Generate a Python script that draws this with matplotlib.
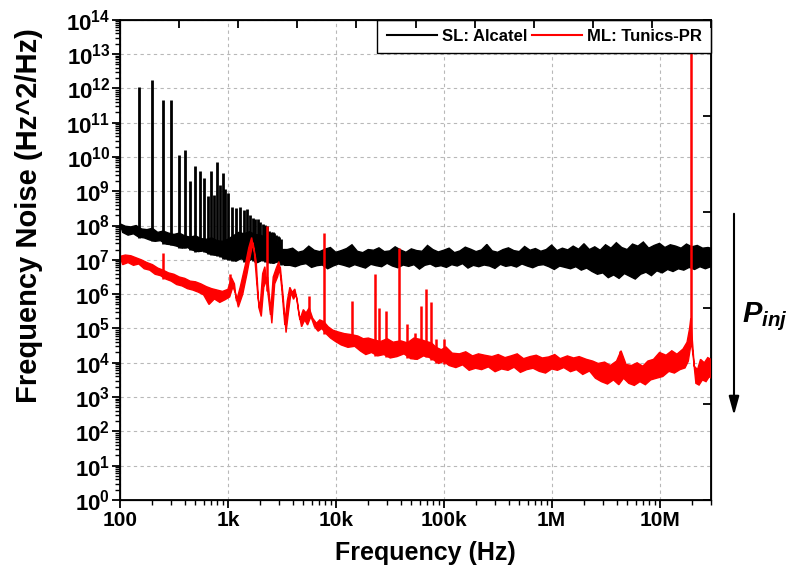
import numpy as np
import matplotlib.pyplot as plt
from matplotlib.lines import Line2D
from matplotlib.ticker import LogLocator, FuncFormatter, NullFormatter, NullLocator

plt.rcParams['font.family'] = 'Liberation Sans'
plt.rcParams['font.weight'] = 'bold'
plt.rcParams['mathtext.fontset'] = 'custom'
plt.rcParams['mathtext.rm'] = 'Liberation Sans:bold'
plt.rcParams['mathtext.bf'] = 'Liberation Sans:bold'
plt.rcParams['mathtext.it'] = 'Liberation Sans:bold:italic'

# SL: Alcatel noise floor, sampled every 0.05 decade from 100 Hz (log10 Hz^2/Hz)
sl_freq = 10 ** np.arange(2.0, 7.51, 0.05)
sl_hi = [8.05, 7.98, 7.96, 8.00, 7.90, 7.88, 7.92, 7.80, 7.84, 7.78,
         7.74, 7.78, 7.70, 7.66, 7.70, 7.62, 7.60, 7.64, 7.56, 7.54,
         7.60, 7.70, 7.80, 7.76, 7.82, 7.74, 7.72, 7.66, 7.62, 7.55,
         7.30, 7.30, 7.34, 7.22, 7.26, 7.40, 7.28, 7.24, 7.31, 7.36,
         7.22, 7.27, 7.33, 7.44, 7.25, 7.21, 7.30, 7.28, 7.35, 7.24,
         7.26, 7.38, 7.29, 7.22, 7.32, 7.27, 7.25, 7.42, 7.30, 7.23,
         7.28, 7.34, 7.21, 7.26, 7.37, 7.31, 7.24, 7.29, 7.45, 7.26,
         7.22, 7.30, 7.35, 7.27, 7.24, 7.39, 7.28, 7.33, 7.25, 7.30,
         7.43, 7.27, 7.34, 7.29, 7.40, 7.31, 7.47, 7.30, 7.38, 7.28,
         7.44, 7.34, 7.50, 7.36, 7.30, 7.46, 7.40, 7.52, 7.34, 7.42,
         7.48, 7.36, 7.44, 7.40, 7.34, 7.46, 7.38, 7.42, 7.34, 7.36,
         7.32]
sl_lo = [7.80, 7.72, 7.76, 7.66, 7.64, 7.58, 7.54, 7.56, 7.46, 7.44,
         7.40, 7.34, 7.36, 7.28, 7.24, 7.26, 7.18, 7.14, 7.12, 7.04,
         7.00, 6.96, 7.04, 6.94, 7.02, 6.92, 7.00, 6.94, 6.90, 6.96,
         6.84, 6.84, 6.80, 6.86, 6.89, 6.78, 6.83, 6.85, 6.74, 6.82,
         6.88, 6.84, 6.79, 6.86, 6.81, 6.76, 6.87, 6.83, 6.80, 6.90,
         6.82, 6.77, 6.85, 6.81, 6.86, 6.73, 6.84, 6.88, 6.80, 6.83,
         6.78, 6.86, 6.82, 6.89, 6.76, 6.84, 6.80, 6.85, 6.82, 6.75,
         6.87, 6.81, 6.84, 6.79, 6.88, 6.82, 6.77, 6.84, 6.86, 6.80,
         6.72, 6.82, 6.78, 6.74, 6.80, 6.70, 6.76, 6.66, 6.58, 6.62,
         6.48, 6.56, 6.46, 6.60, 6.52, 6.44, 6.58, 6.64, 6.54, 6.68,
         6.62, 6.72, 6.66, 6.74, 6.70, 6.78, 6.72, 6.80, 6.74, 6.80,
         6.78]

# SL: Alcatel mains harmonics (Hz, log10 peak)
sl_spike_freq = [150, 200, 250, 300, 350, 400, 450, 500, 550, 600, 650, 700, 750, 800,
                 850, 900, 950, 1000, 1100, 1200, 1300, 1400, 1500, 1600, 1700, 1800,
                 1900, 2000, 2100, 2200, 2300, 2400, 2500, 2600, 2700, 2800, 2900,
                 3000, 3100]
sl_spike_peak = [12.05, 12.25, 11.67, 11.67, 10.07, 10.21, 9.29, 9.73, 9.58, 9.39, 8.85,
                 9.58, 8.90, 9.84, 9.19, 9.53, 9.07, 8.95, 8.55, 8.50, 8.53, 8.45, 8.47,
                 8.30, 8.22, 8.18, 8.20, 8.10, 8.05, 8.02, 7.98, 7.85, 7.82, 7.80, 7.78,
                 7.72, 7.70, 7.68, 7.62]

# ML: Tunics-PR noise floor (Hz, log10 Hz^2/Hz)
ml_freq = [100, 112, 126, 141, 158, 178, 200, 224, 251, 282,
           316, 355, 398, 447, 501, 562, 631, 708, 794, 891,
           1000, 1080, 1150, 1200, 1300, 1450, 1560, 1660, 1760, 1900,
           1980, 2100, 2200, 2480, 2630, 2800, 2970, 3150, 3370, 3550,
           3750, 3950, 4170, 4400, 4640, 5000, 5300, 5660, 6100, 6620,
           7100, 7740, 8500, 9400, 10.5e3, 12e3, 14e3, 16e3, 18e3, 20e3,
           23e3, 26e3, 30e3, 34e3, 40e3, 46e3, 53e3, 61e3, 69e3, 77e3,
           85e3, 95e3, 105e3, 120e3, 140e3, 160e3, 185e3, 210e3, 240e3, 280e3,
           320e3, 370e3, 420e3, 480e3, 550e3, 630e3, 720e3, 820e3, 940e3, 1.07e6,
           1.2e6, 1.4e6, 1.6e6, 1.8e6, 2.1e6, 2.4e6, 2.7e6, 3.1e6, 3.5e6, 4.0e6,
           4.4e6, 4.9e6, 5.5e6, 6.2e6, 7.0e6, 7.8e6, 8.8e6, 10e6, 11.5e6, 13e6,
           14.5e6, 16.5e6, 18e6, 19e6, 19.5e6, 20e6, 21e6, 22.5e6, 24e6, 26e6,
           28e6, 30e6]
ml_lo = [6.86, 6.92, 6.84, 6.88, 6.74, 6.70, 6.58, 6.54, 6.44, 6.38,
         6.28, 6.24, 6.16, 6.12, 6.06, 5.98, 5.70, 5.86, 5.76, 5.84,
         5.92, 6.22, 6.02, 5.62, 6.00, 6.60, 7.10, 7.50, 6.95, 5.60,
         5.35, 6.20, 6.50, 5.15, 6.30, 6.50, 6.80, 5.90, 4.88, 5.50,
         6.05, 5.85, 6.00, 5.50, 5.05, 5.25, 5.10, 5.35, 5.05, 4.92,
         5.00, 4.85, 4.72, 4.62, 4.52, 4.45, 4.48, 4.34, 4.24, 4.30,
         4.20, 4.24, 4.14, 4.18, 4.26, 4.12, 4.10, 4.20, 4.16, 4.08,
         3.98, 4.04, 3.92, 3.86, 3.94, 3.78, 3.84, 3.80, 3.88, 3.74,
         3.82, 3.78, 3.87, 3.72, 3.80, 3.84, 3.75, 3.70, 3.82, 3.78,
         3.86, 3.74, 3.80, 3.66, 3.76, 3.55, 3.45, 3.38, 3.50, 3.36,
         3.55, 3.40, 3.34, 3.45, 3.36, 3.50, 3.55, 3.60, 3.75, 3.70,
         3.80, 3.85, 4.05, 4.40, 4.60, 4.20, 3.40, 3.35, 3.50, 3.45,
         3.60, 3.55]
ml_hi = [7.10, 7.14, 7.12, 7.06, 7.00, 6.92, 6.86, 6.76, 6.70, 6.62,
         6.58, 6.50, 6.46, 6.38, 6.36, 6.30, 6.22, 6.16, 6.12, 6.08,
         6.14, 6.48, 6.30, 5.80, 6.20, 6.85, 7.35, 7.65, 7.20, 5.90,
         5.55, 6.60, 6.80, 5.40, 6.50, 6.75, 6.95, 6.20, 5.10, 5.80,
         6.20, 6.05, 6.15, 5.80, 5.25, 5.55, 5.45, 5.60, 5.30, 5.15,
         5.25, 5.20, 5.05, 4.95, 4.90, 4.85, 4.82, 4.78, 4.70, 4.72,
         4.66, 4.62, 4.70, 4.60, 4.64, 4.58, 4.72, 4.68, 4.62, 4.58,
         4.45, 4.38, 4.46, 4.28, 4.26, 4.32, 4.20, 4.26, 4.22, 4.18,
         4.24, 4.15, 4.20, 4.26, 4.12, 4.18, 4.22, 4.14, 4.17, 4.24,
         4.12, 4.20, 4.14, 4.18, 4.10, 4.05, 3.98, 4.02, 3.92, 4.05,
         4.35, 3.95, 3.92, 4.00, 3.90, 4.05, 4.10, 4.30, 4.22, 4.35,
         4.25, 4.40, 4.60, 5.00, 5.30, 4.80, 3.90, 3.80, 4.10, 4.00,
         4.15, 4.10]

# ML: Tunics-PR discrete lines (Hz, log10 peak)
ml_spike_freq = [250, 1050, 2280, 5660, 7740, 14e3, 23e3, 25e3, 29e3, 38.6e3, 45.7e3,
                 53.8e3, 61e3, 69e3, 77e3, 84e3, 100e3, 4.3e6, 19.5e6]
ml_spike_peak = [7.20, 6.58, 7.98, 5.95, 7.79, 5.80, 6.58, 5.61, 5.51, 7.35, 5.12, 4.88,
                 5.66, 6.14, 5.76, 4.69, 4.69, 4.35, 13.5]

x_major = [1e2, 1e3, 1e4, 1e5, 1e6, 1e7]
x_labels = ['100', '1k', '10k', '100k', '1M', '10M']

W, H = 791, 586
fig = plt.figure(figsize=(W / 100, H / 100), dpi=100)
ax = fig.add_axes([120 / W, 1 - 500 / H, 591 / W, 480.3 / H])
ax.set_xscale('log')
ax.set_yscale('log')


def draw_trace(freq, lo, hi, spike_f, spike_p, color, spike_lw):
    freq = np.asarray(freq, dtype=float)
    lo = np.asarray(lo)
    hi = np.asarray(hi)
    # bottom edge vertices sit halfway between the top ones
    f_mid = np.append(np.sqrt(freq[:-1] * freq[1:]), freq[-1])
    xs = np.concatenate([freq, f_mid[::-1]])
    ys = np.concatenate([10 ** hi, 10 ** lo[::-1]])
    ax.fill(xs, ys, color=color, lw=1.0, zorder=3)
    base = np.interp(np.log10(spike_f), np.log10(freq), lo)
    ax.vlines(spike_f, 10 ** base, 10 ** np.asarray(spike_p), color=color,
              lw=spike_lw, zorder=3)


draw_trace(sl_freq, sl_lo, sl_hi, sl_spike_freq, sl_spike_peak, 'black', 2.0)
draw_trace(ml_freq, ml_lo, ml_hi, ml_spike_freq, ml_spike_peak, 'red', 1.8)

ax.set_xlim(100, 3e7)
ax.set_ylim(1, 1e14)
ax.set_xticks(x_major)
ax.set_xticklabels(x_labels)
ax.xaxis.set_minor_locator(LogLocator(base=10, subs=np.arange(2, 10), numticks=100))
ax.xaxis.set_minor_formatter(NullFormatter())
ax.yaxis.set_major_locator(LogLocator(base=10, numticks=30))
ax.yaxis.set_minor_locator(LogLocator(base=10, subs=np.arange(2, 10), numticks=200))
ax.yaxis.set_minor_formatter(NullFormatter())
ax.yaxis.set_major_formatter(FuncFormatter(lambda v, p: '$10^{%d}$' % round(np.log10(v))))
ax.tick_params(which='major', direction='out', length=6, width=1.3, pad=2)
ax.tick_params(axis='x', labelsize=15)
ax.tick_params(axis='y', labelsize=16, pad=1)
ax.tick_params(which='minor', direction='out', length=3.5, width=1.0)
ax.grid(True, which='major', ls=(0, (3, 3)), color='#b8b8b8', lw=0.8)
ax.set_axisbelow(True)
for s in ax.spines.values():
    s.set_linewidth(1.3)

ax.set_xlabel('Frequency (Hz)', fontsize=18, fontweight='bold')
ax.xaxis.set_label_coords(0.516, -0.085)
ax.set_ylabel('Frequency Noise (Hz^2/Hz)', fontsize=21, fontweight='bold')
ax.yaxis.set_label_coords(-0.13, 0.593)

handles = [Line2D([], [], color='black', lw=1.5), Line2D([], [], color='red', lw=1.5)]
leg = ax.legend(handles, ['SL: Alcatel', 'ML: Tunics-PR'], loc='upper right', ncol=2,
                fancybox=False, edgecolor='black', framealpha=1, borderaxespad=0,
                handlelength=3.0, handletextpad=0.3, columnspacing=0.3, borderpad=0.55,
                prop={'size': 12, 'weight': 'bold'})
leg.get_frame().set_linewidth(1.0)
leg.set_zorder(5)

# top and right frame ticks
top = ax.twiny()
top.set_xlim(0, 10)
top.set_xticks(range(11))
top.xaxis.set_minor_locator(NullLocator())
top.tick_params(axis='x', direction='in', length=6, width=1.3, labeltop=False)

right = ax.twinx()
right.set_ylim(5, 0)
right.set_yticks(range(6))
right.yaxis.set_minor_locator(NullLocator())
right.tick_params(axis='y', direction='in', length=6, width=1.3, labelright=False)

# injected power arrow
ax.annotate('', xy=(734 / W, 1 - 418 / H), xytext=(734 / W, 1 - 211 / H),
            xycoords='figure fraction', textcoords='figure fraction',
            arrowprops=dict(arrowstyle='-|>,head_length=0.8,head_width=0.22',
                            mutation_scale=14, lw=1.5, color='black'))
fig.text(742 / W, 1 - 322 / H, r'$P_{inj}$', fontsize=21)

fig.savefig('out.png', dpi=100)
